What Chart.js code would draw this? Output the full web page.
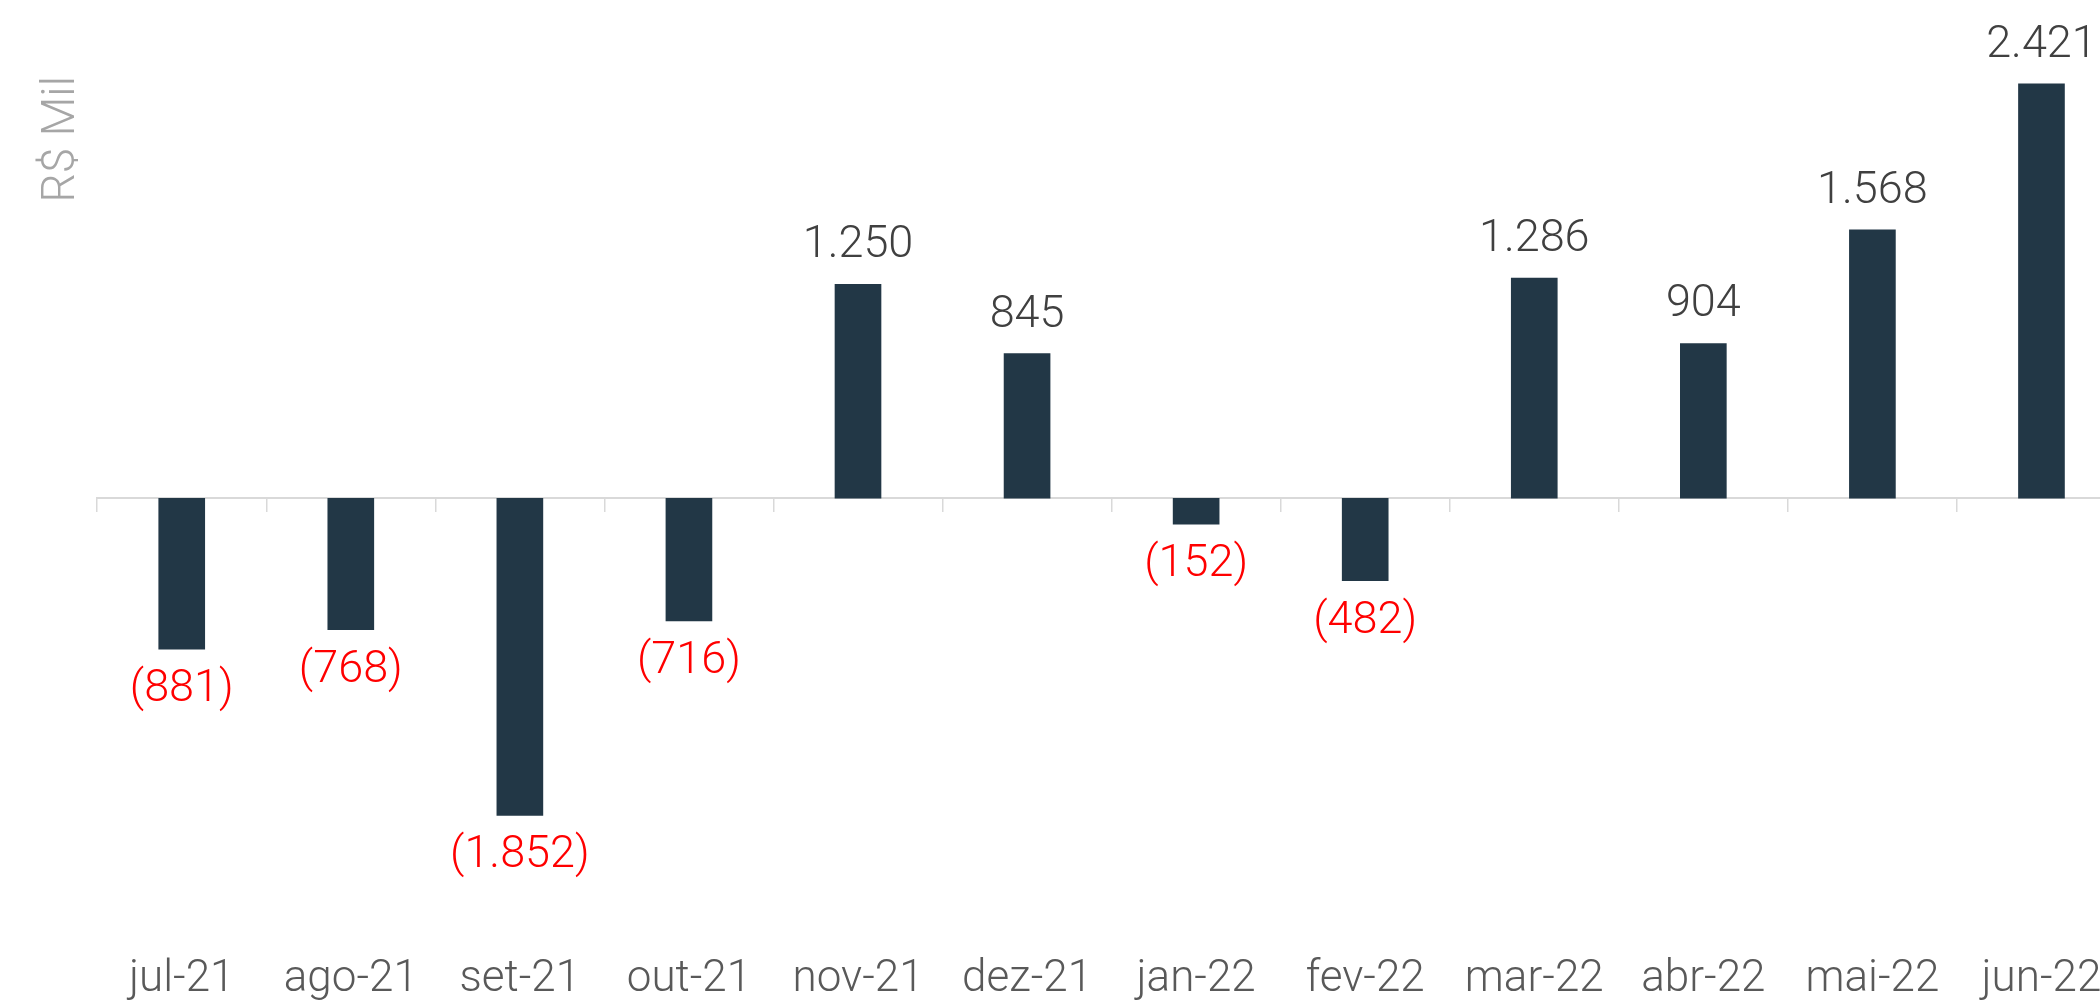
<!DOCTYPE html>
<html lang="pt-BR">
<head>
<meta charset="utf-8">
<title>Resultado mensal - R$ Mil</title>
<script src="https://cdn.jsdelivr.net/npm/chart.js@4/dist/chart.umd.min.js"></script>
<style>
    html, body { margin: 0; padding: 0; background: #ffffff; overflow: hidden; }
    #wrap { width: 2100px; height: 1001px; overflow: hidden; }
    canvas { display: block; }
</style>
</head>
<body>
<div id="wrap">
    <canvas id="resultado-chart" width="2126" height="1006"></canvas>
</div>
<script>
// Meses e valores (R$ Mil)
const meses = ['jul-21', 'ago-21', 'set-21', 'out-21', 'nov-21', 'dez-21', 'jan-22', 'fev-22', 'mar-22', 'abr-22', 'mai-22', 'jun-22'];
const valores = [-881, -768, -1852, -716, 1250, 845, -152, -482, 1286, 904, 1568, 2421];
const tituloEixo = 'R$ Mil';

const fonte = "Roboto, 'Open Sans', 'DejaVu Sans', sans-serif";

// Formato brasileiro: 1.250 e negativos entre parênteses
const formatar = (v) => {
    const txt = String(Math.abs(v)).replace(/\B(?=(\d{3})+(?!\d))/g, '.');
    return v < 0 ? `(${txt})` : txt;
};

// Rótulos de valor acima/abaixo das barras
const rotulosValor = {
    id: 'rotulosValor',
    afterDatasetsDraw(chart) {
        const ctx = chart.ctx;
        const meta = chart.getDatasetMeta(0);
        ctx.save();
        ctx.font = `300 45px ${fonte}`;
        ctx.textAlign = 'center';
        ctx.textBaseline = 'alphabetic';
        meta.data.forEach((bar, i) => {
            const v = valores[i];
            if (v >= 0) {
                ctx.fillStyle = '#404040';
                ctx.fillText(formatar(v), bar.x, bar.y - 27);
            } else {
                ctx.fillStyle = '#ff0000';
                ctx.fillText(formatar(v), bar.x, bar.y + 52);
            }
        });
        ctx.restore();
    }
};

const ctx = document.getElementById('resultado-chart').getContext('2d');
const resultadoChart = new Chart(ctx, {
    type: 'bar',
    data: {
        labels: meses,
        datasets: [{
            data: valores,
            backgroundColor: '#223746',
            borderWidth: 0,
            barThickness: 46,
            xAxisID: 'x'
        }]
    },
    options: {
        responsive: false,
        animation: false,
        devicePixelRatio: 1,
        layout: { padding: { left: 31, top: 76, right: 0, bottom: 0 } },
        plugins: {
            legend: { display: false },
            tooltip: { enabled: false }
        },
        scales: {
            x: {
                position: 'bottom',
                grid: { display: false, drawTicks: false },
                border: { display: false },
                ticks: {
                    color: '#595959',
                    font: { family: fonte, size: 44, weight: '300' },
                    padding: 0,
                    maxRotation: 0,
                    autoSkip: false
                }
            },
            eixoZero: {
                type: 'category',
                axis: 'x',
                position: { y: 0 },
                offset: true,
                z: 1,
                grid: {
                    drawOnChartArea: false,
                    drawTicks: true,
                    tickLength: 13,
                    color: '#d9d9d9',
                    lineWidth: 1.5
                },
                border: { display: true, color: '#d9d9d9', width: 2 },
                ticks: { display: false }
            },
            y: {
                min: -2657,
                max: 2466,
                grid: { display: false, drawTicks: false },
                border: { display: false },
                ticks: { display: false },
                title: {
                    display: true,
                    text: tituloEixo,
                    align: 'end',
                    color: '#a6a6a6',
                    font: { family: fonte, size: 46, weight: '300' },
                    padding: { top: 4, bottom: 7 }
                }
            }
        }
    },
    plugins: [rotulosValor]
});
</script>
</body>
</html>
